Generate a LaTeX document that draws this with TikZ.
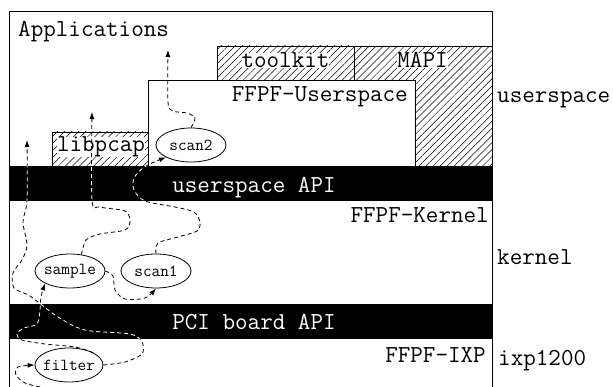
\documentclass[tikz,border=0pt]{standalone}
\usepackage{tikz}
\usetikzlibrary{shapes.geometric}
\usetikzlibrary{patterns.meta}
\usetikzlibrary{arrows.meta}

\newcommand{\bigtt}{\ttfamily\fontsize{24.4}{28}\selectfont}
\newcommand{\smalltt}{\ttfamily\fontsize{16.8}{19}\selectfont}
\newcommand{\proclabel}[1]{\makebox[0pt]{#1}}
% all packet paths, drawn with the style given
\newcommand{\flowlines}[1]{%
    \draw[#1] plot[smooth] coordinates {(wire) (25,383) (16,375) (18,367) (filter.west)};
    \draw[#1] plot[smooth] coordinates {(filter.east) (125,362) (142,354) (142,342) (130,334) (85,330) (58,317) (30,296) (14,288) (13,273) (22,260) (27,245) (23,222) (27,200) (appsin)};
    \draw[#1] plot[smooth] coordinates {(filter.north east) (75,347) (45,344) (22,340) (17,334) (24,328) (37,324) (40,310) (41,297) (sample.south west)};
    \draw[#1] plot[smooth] coordinates {(sample.east) (113,276) (115,290) (125,299) (145,298) (scan1.south)};
    \draw[#1] plot[smooth] coordinates {(sample.55) (86,240) (100,234) (125,230) (130,221) (125,211) (100,207) (92,200) (libin)};
    \draw[#1] plot[smooth] coordinates {(scan1.north) (158,243) (178,237) (197,231) (200,222) (194,212) (175,207) (145,201) (134,190) (134,178) (143,168) (152,163) (scan2.south west)};
    \draw[#1] plot[smooth] coordinates {(scan2.north) (195,118) (187,113) (173,111) (168,102) (mapiin)};
}

\begin{document}
\begin{tikzpicture}[
                x = 1pt,
                y = -1pt,
                frame/.style = {
                    draw,
                    line width = 0.8pt
                },
                hatched/.style = {
                    draw,
                    line width = 0.8pt,
                    pattern = {Lines[angle=45, distance=5pt, line width=0.5pt]}
                },
                txt/.style = {
                    font = \bigtt,
                    inner sep = 0pt
                },
                hatchtxt/.style = {
                    txt,
                    fill = white
                },
                bartxt/.style = {
                    txt,
                    text = white
                },
                proc/.style = {
                    draw,
                    ellipse,
                    fill = white,
                    line width = 0.8pt,
                    minimum width = #1,
                    minimum height = 34pt,
                    inner sep = 0pt,
                    font = \smalltt
                },
                proc/.default = 70pt,
                flow/.style = {
                    line width = 0.8pt,
                    dash pattern = on 4pt off 3pt,
                    -{Latex[length=7pt, width=5pt]}
                },
                inbar/.style = {
                    flow,
                    white,
                    -
                }
            ]
            \fill[white] (0,0) rectangle (613,387);
            \useasboundingbox (0,0) rectangle (613,387);
            % 
            \draw[frame] (9,387) -- (9,11) -- (492,11) -- (492,387);
            \draw[hatched] (217,46) rectangle (354,80);
            \draw[hatched] (354,46) -- (492,46) -- (492,166) -- (415,166) -- (415,80) -- (354,80) -- cycle;
            \draw[frame, fill=white] (148,80) rectangle (415,166);
            \draw[hatched] (52,132) rectangle (148,166);
            \fill (9,166) rectangle (492,201);
            \fill (9,304) rectangle (492,339);
            % 
            \node[txt, anchor=base west] (apps) at (18,37) {Applications};
            \node[hatchtxt, anchor=base] (toolkit) at (285.5,68) {toolkit};
            \node[hatchtxt, anchor=base] (mapi) at (422.5,68) {MAPI};
            \node[txt, anchor=base east] (ffpfuser) at (408,102) {FFPF-Userspace};
            \node[hatchtxt, anchor=base] (libpcap) at (101,152) {libpcap};
            \node[bartxt, anchor=base] (userapi) at (254,193) {userspace API};
            \node[txt, anchor=base east] (ffpfkern) at (489,223) {FFPF-Kernel};
            \node[bartxt, anchor=base] (pciapi) at (254,330) {PCI board API};
            \node[txt, anchor=base east] (ffpfixp) at (486,362) {FFPF-IXP};
            % 
            \node[txt, anchor=base west] (userspace) at (497,103) {userspace};
            \node[txt, anchor=base west] (kernel) at (497,265) {kernel};
            \node[txt, anchor=base west] (ixp) at (498,365) {ixp1200};
            % 
            \node[proc] (scan2) at (191,145) {\proclabel{scan2}};
            \node[proc] (sample) at (70,271) {\proclabel{sample}};
            \node[proc] (scan1) at (156,271) {\proclabel{scan1}};
            \node[proc=68pt] (filter) at (69,365) {\proclabel{filter}};
            % 
            \coordinate (wire) at (40,387);
            \coordinate (appsin) at (27,140);
            \coordinate (libin) at (92,112);
            \coordinate (mapiin) at (168,50);
            % 
            \flowlines{flow}
            % white where the paths cross the black API bars
            \begin{scope}
                \clip (9,166) rectangle (492,201) (9,304) rectangle (492,339);
                \flowlines{inbar}
            \end{scope}
            % 
        \end{tikzpicture}
\end{document}
